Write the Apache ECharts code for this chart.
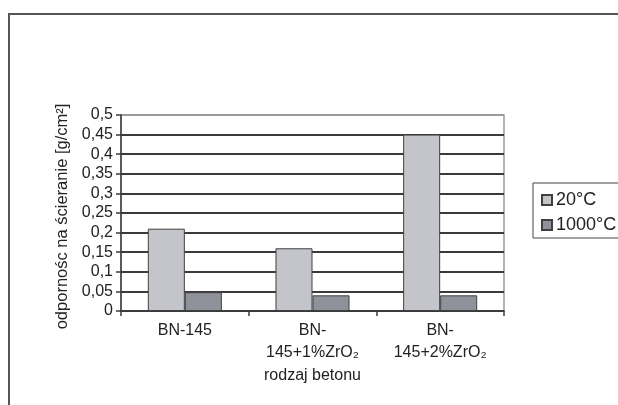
<!DOCTYPE html>
<html><head><meta charset="utf-8">
<script src="https://cdn.jsdelivr.net/npm/echarts@6/dist/echarts.min.js"></script>
<style>html,body{margin:0;padding:0;background:#fff}#c{width:618px;height:405px}</style>
</head><body><div id="c"></div>
<script>
const categories = ['BN-145', 'BN-\n145+1%ZrO₂', 'BN-\n145+2%ZrO₂'];
const seriesNames = ['20°C', '1000°C'];
const values20 = [0.21, 0.16, 0.45];
const values1000 = [0.048, 0.04, 0.04];
const yAxisTitle = 'odpornośc na ścieranie [g/cm²]';
const xAxisTitle = 'rodzaj betonu';

const font = 'Liberation Sans, Arial, sans-serif';
const gridColors = [];
for (let i = 0; i < 11; i++) gridColors.push(i === 10 ? '#9a9a9e' : '#3c3a3c');

const chart = echarts.init(document.getElementById('c'), null, {renderer: 'canvas'});
chart.setOption({
  animation: false,
  backgroundColor: '#fff',
  textStyle: {fontFamily: font},
  grid: {left: 121, top: 115, right: 114, bottom: 94, show: true, borderColor: '#9a9a9e', borderWidth: 1.5},
  legend: {
    orient: 'vertical', left: 533, top: 183, padding: [8, 20, 4, 8], itemGap: 7,
    itemWidth: 10, itemHeight: 10, borderColor: '#444', borderWidth: 1,
    textStyle: {fontFamily: font, fontSize: 18, color: '#222', padding: [0, 0, 0, -1]},
    data: seriesNames.map(n => ({name: n, icon: 'rect'}))
  },
  xAxis: {
    type: 'category', data: categories,
    name: xAxisTitle, nameLocation: 'middle', nameGap: 57,
    nameTextStyle: {fontFamily: font, fontSize: 16, color: '#222'},
    axisLine: {lineStyle: {color: '#3c3a3c', width: 1.5}},
    axisTick: {show: true, length: 5, lineStyle: {color: '#3c3a3c', width: 1.5}},
    axisLabel: {fontFamily: font, fontSize: 16, color: '#222', margin: 9, lineHeight: 22},
    splitLine: {show: false}
  },
  yAxis: {
    type: 'value', min: 0, max: 0.5, interval: 0.05,
    name: yAxisTitle, nameLocation: 'middle', nameGap: 50, nameRotate: 90,
    nameTextStyle: {fontFamily: font, fontSize: 16.5, color: '#222', padding: [0, 7, 0, 0]},
    axisLine: {show: true, lineStyle: {color: '#3c3a3c', width: 1.5}},
    axisTick: {show: true, length: 5, lineStyle: {color: '#3c3a3c', width: 1.5}},
    axisLabel: {fontFamily: font, fontSize: 16, color: '#222', margin: 8,
      formatter: v => String(Math.round(v * 100) / 100).replace('.', ',')},
    splitLine: {show: true, lineStyle: {color: gridColors, width: 1.8}}
  },
  series: [
    {name: seriesNames[0], type: 'bar', data: values20, barGap: '0%', barCategoryGap: '42%',
     itemStyle: {color: '#c4c5cb', borderColor: '#404040', borderWidth: 1}},
    {name: seriesNames[1], type: 'bar', data: values1000, barGap: '0%', barCategoryGap: '42%',
     itemStyle: {color: '#8f929a', borderColor: '#404040', borderWidth: 1}}
  ],
  graphic: [
    {type: 'polyline', shape: {points: [[9, 405], [9, 14], [618, 14]]},
     style: {stroke: '#555', lineWidth: 2, fill: null}, silent: true}
  ]
});
</script></body></html>
